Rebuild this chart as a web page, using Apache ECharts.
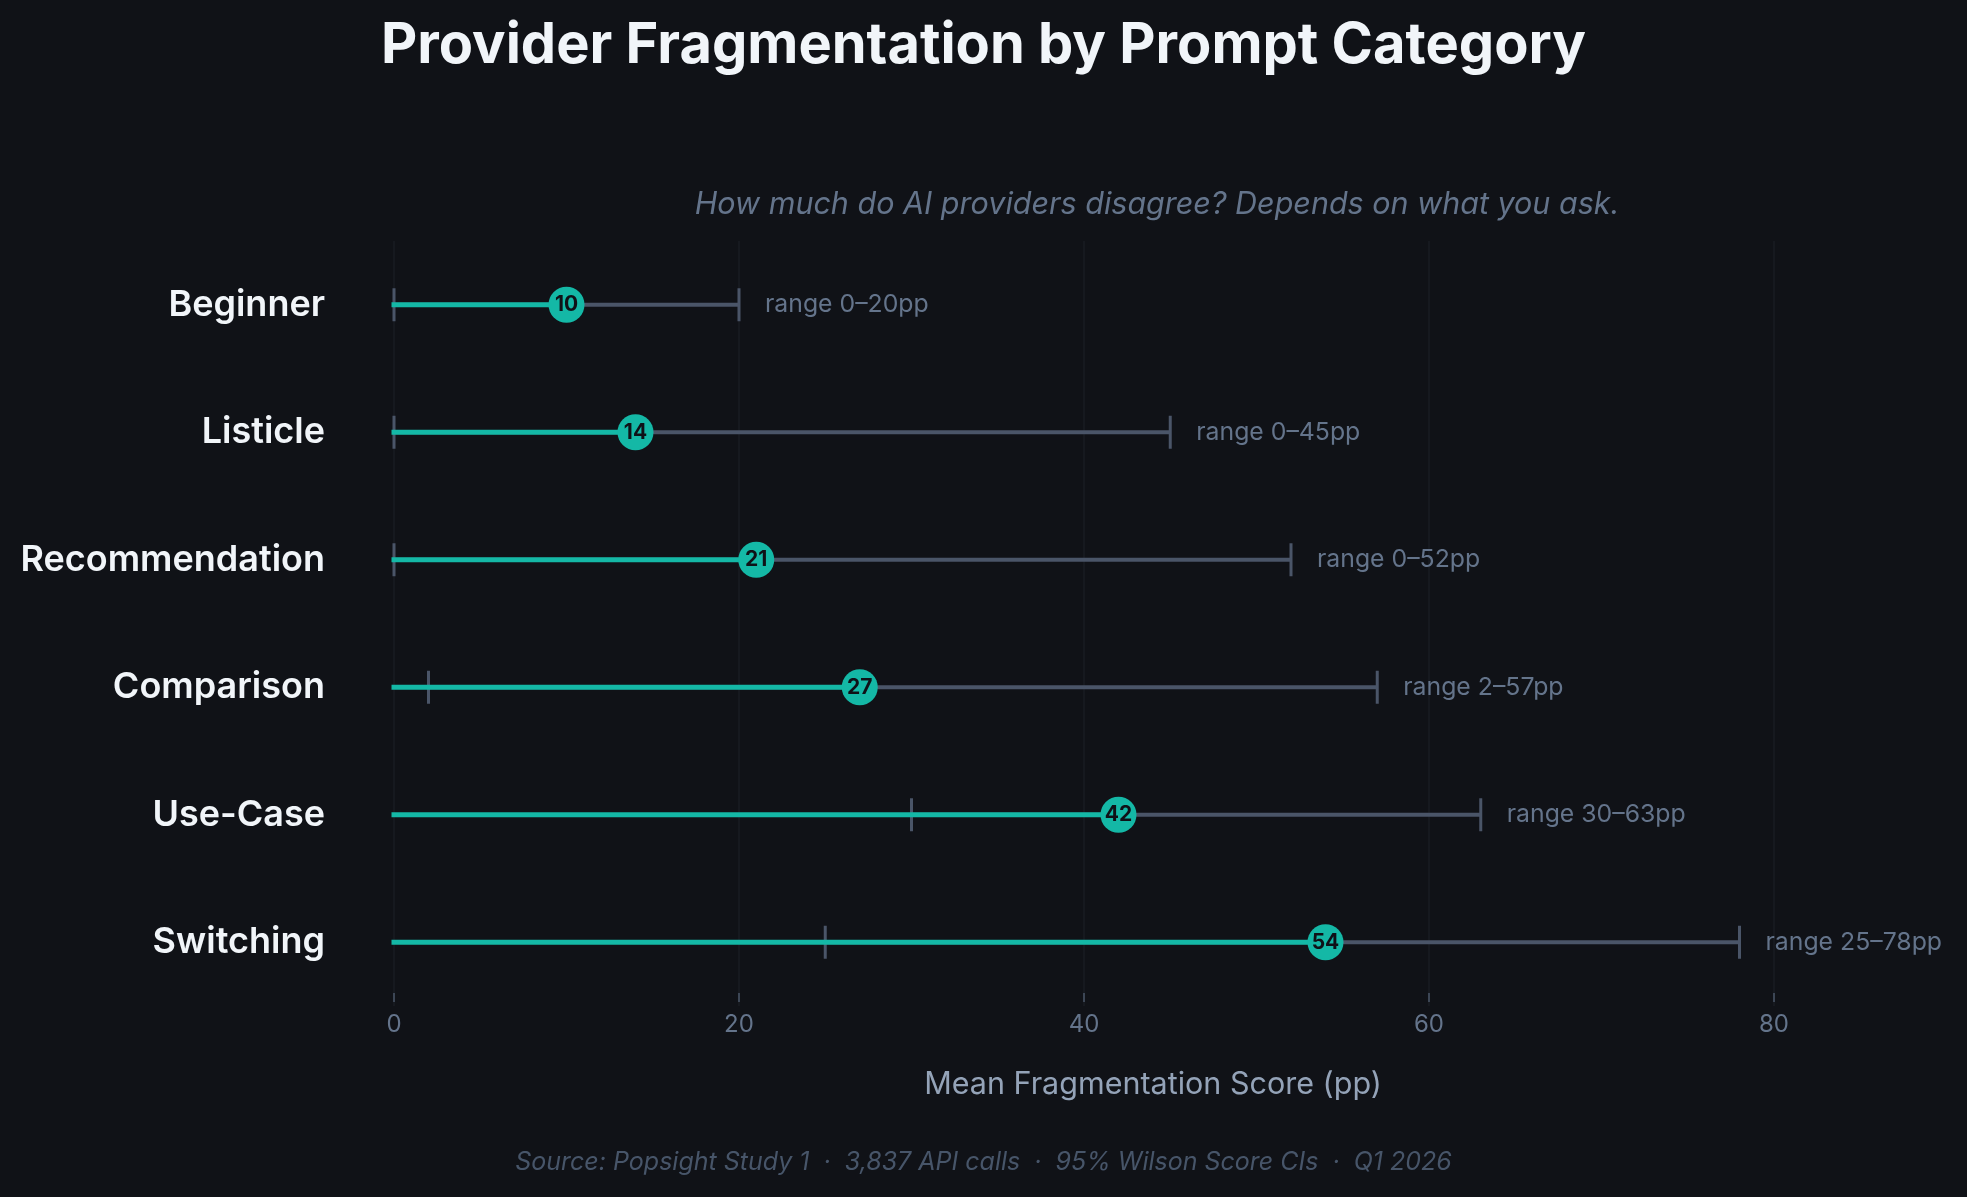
<!DOCTYPE html>
<html><head><meta charset="utf-8">
<script src="https://cdn.jsdelivr.net/npm/echarts@6/dist/echarts.min.js"></script>
<style>html,body{margin:0;padding:0;background:#101217;} #c{width:1967px;height:1197px;}</style>
</head><body><div id="c"></div>
<script>
const categories = ['Beginner', 'Listicle', 'Recommendation', 'Comparison', 'Use-Case', 'Switching'];
const meanScores = [10, 14, 21, 27, 42, 54];
const rangeMin = [0, 0, 0, 2, 30, 25];
const rangeMax = [20, 45, 52, 57, 63, 78];
const xTicks = [0, 20, 40, 60, 80];

const FONT = 'Inter';
const TEAL = '#14b8a6';
const GREY = '#4a5568';

const chart = echarts.init(document.getElementById('c'), null, {renderer: 'canvas'});

const rangeData = categories.map((c, i) => [i, rangeMin[i], rangeMax[i]]);
const meanLineData = categories.map((c, i) => [i, meanScores[i]]);
const dotData = categories.map((c, i) => [meanScores[i], i]);

chart.setOption({
  backgroundColor: '#101217',
  animation: false,
  title: [
    {text: 'Provider Fragmentation by Prompt Category', left: 'center', top: 13,
     textStyle: {color: '#f1f5f9', fontSize: 56, fontWeight: 'bold', fontFamily: FONT}},
    {text: 'How much do AI providers disagree? Depends on what you ask.', left: 1152, textAlign: 'center', top: 185,
     textStyle: {color: '#64748b', fontSize: 30.5, fontStyle: 'italic', fontWeight: 'normal', fontFamily: FONT}},
    {text: 'Source: Popsight Study 1  ·  3,837 API calls  ·  95% Wilson Score CIs  ·  Q1 2026', left: 'center', top: 1145,
     textStyle: {color: '#475569', fontSize: 25, fontStyle: 'italic', fontWeight: 'normal', fontFamily: FONT}}
  ],
  grid: {left: 394, right: 55, top: 241, bottom: 191, containLabel: false},
  xAxis: {
    type: 'value', min: 0, max: 88, interval: 20, offset: -13,
    name: 'Mean Fragmentation Score (pp)', nameLocation: 'middle', nameGap: 76,
    nameTextStyle: {color: '#94a3b8', fontSize: 30.5, fontFamily: FONT},
    axisLine: {show: false},
    axisTick: {show: true, length: 9, lineStyle: {color: '#4a5568', width: 1.5}, customValues: xTicks},
    axisLabel: {color: '#64748b', fontSize: 24, fontFamily: FONT, margin: 20, customValues: xTicks},
    splitLine: {show: true, lineStyle: {color: '#191c23', width: 1.5}}
  },
  yAxis: {
    type: 'category', data: categories, inverse: true,
    axisLine: {show: false}, axisTick: {show: false}, splitLine: {show: false},
    axisLabel: {color: '#f1f5f9', fontSize: 36, fontWeight: 600, fontFamily: FONT, margin: 69}
  },
  series: [
    {
      type: 'custom', name: 'range', clip: false, z: 2,
      encode: {x: [1, 2], y: 0},
      data: rangeData,
      renderItem: function (params, api) {
        const idx = api.value(0);
        const p1 = api.coord([api.value(1), idx]);
        const p2 = api.coord([api.value(2), idx]);
        const h = 16.5;
        return {type: 'group', children: [
          {type: 'line', shape: {x1: p1[0], y1: p1[1], x2: p2[0], y2: p2[1]}, style: {stroke: GREY, lineWidth: 4}},
          {type: 'line', shape: {x1: p1[0], y1: p1[1] - h, x2: p1[0], y2: p1[1] + h}, style: {stroke: GREY, lineWidth: 3}},
          {type: 'line', shape: {x1: p2[0], y1: p2[1] - h, x2: p2[0], y2: p2[1] + h}, style: {stroke: GREY, lineWidth: 3}},
          {type: 'text', x: p2[0] + 26, y: p2[1], style: {
            text: 'range ' + api.value(1) + '–' + api.value(2) + 'pp',
            fill: '#64748b', fontSize: 24.8, fontFamily: FONT, align: 'left', verticalAlign: 'middle'}}
        ]};
      }
    },
    {
      type: 'custom', name: 'mean', clip: false, z: 3,
      encode: {x: 1, y: 0},
      data: meanLineData,
      renderItem: function (params, api) {
        const idx = api.value(0);
        const p0 = api.coord([0, idx]);
        const p1 = api.coord([api.value(1), idx]);
        return {type: 'line', shape: {x1: p0[0], y1: p0[1], x2: p1[0], y2: p1[1]},
                style: {stroke: TEAL, lineWidth: 5, lineCap: 'square'}};
      }
    },
    {
      type: 'scatter', name: 'mean score', z: 4,
      symbol: 'circle', symbolSize: 36,
      itemStyle: {color: TEAL, opacity: 1},
      data: dotData,
      label: {show: true, position: 'inside', formatter: p => p.value[0],
              color: '#0f1117', fontSize: 21, fontWeight: 'bold', fontFamily: FONT}
    }
  ]
});
</script>
</body></html>
